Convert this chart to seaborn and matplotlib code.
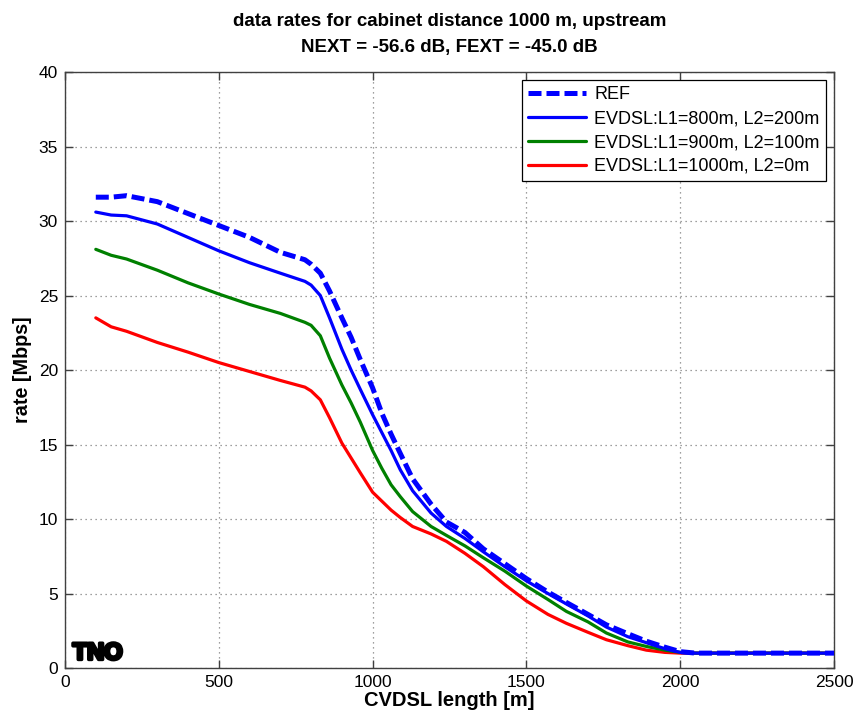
import numpy as np
import pandas as pd
import matplotlib
matplotlib.use("Agg")
import matplotlib.pyplot as plt
import matplotlib.patheffects as pe
import seaborn as sns

length_m = [100, 150, 200, 300, 400, 500, 600, 700, 780, 800, 830, 860, 900, 930, 960,
            1000, 1030, 1060, 1090, 1130, 1190, 1240, 1300, 1360, 1430, 1500, 1570, 1630,
            1700, 1760, 1830, 1890, 1950, 2000, 2050, 2100, 2200, 2300, 2400, 2500]

ref_rate = [31.6, 31.6, 31.7, 31.3, 30.5, 29.7, 28.9, 27.9, 27.4, 27.1, 26.5, 25.3, 23.5, 22.2, 20.7,
            18.8, 17.1, 15.7, 14.4, 12.7, 11.0, 9.8, 9.1, 8.0, 7.0, 6.0, 5.1, 4.4,
            3.6, 2.9, 2.3, 1.8, 1.4, 1.1, 1.0, 1.0, 1.0, 1.0, 1.0, 1.0]

evdsl_800_200 = [30.6, 30.4, 30.35, 29.8, 28.9, 28.0, 27.2, 26.5, 25.95, 25.7, 25.0, 23.5, 21.4, 20.0, 18.7,
                 17.0, 15.8, 14.6, 13.3, 11.9, 10.4, 9.5, 8.7, 7.8, 6.8, 5.85, 5.0, 4.3,
                 3.5, 2.75, 2.1, 1.7, 1.3, 1.05, 1.0, 1.0, 1.0, 1.0, 1.0, 1.0]

evdsl_900_100 = [28.1, 27.7, 27.45, 26.7, 25.85, 25.1, 24.4, 23.8, 23.2, 23.0, 22.3, 20.8, 19.0, 17.8, 16.5,
                 14.6, 13.4, 12.3, 11.5, 10.5, 9.5, 8.9, 8.2, 7.4, 6.5, 5.5, 4.6, 3.8,
                 3.1, 2.35, 1.75, 1.45, 1.2, 1.05, 1.0, 1.0, 1.0, 1.0, 1.0, 1.0]

evdsl_1000_0 = [23.5, 22.9, 22.6, 21.85, 21.2, 20.5, 19.9, 19.3, 18.85, 18.6, 18.0, 16.8, 15.1, 14.1, 13.1,
                11.8, 11.2, 10.6, 10.1, 9.5, 9.0, 8.5, 7.7, 6.8, 5.6, 4.5, 3.6, 3.0,
                2.4, 1.9, 1.5, 1.2, 1.05, 1.0, 1.0, 1.0, 1.0, 1.0, 1.0, 1.0]

series_names = ["REF", "EVDSL:L1=800m, L2=200m", "EVDSL:L1=900m, L2=100m", "EVDSL:L1=1000m, L2=0m"]
x_ticks = [0, 500, 1000, 1500, 2000, 2500]
y_ticks = [0, 5, 10, 15, 20, 25, 30, 35, 40]

sns.set_theme(style="white")
plt.rcParams["font.family"] = ["Liberation Sans", "DejaVu Sans"]
plt.rcParams["text.color"] = "black"
plt.rcParams["axes.labelcolor"] = "black"
plt.rcParams["xtick.color"] = "black"
plt.rcParams["ytick.color"] = "black"

fig = plt.figure(figsize=(8.58, 7.18), dpi=100)
ax = fig.add_axes([0.0758, 0.0696, 0.8962, 0.8301])

frames = []
for name, vals in zip(series_names, [ref_rate, evdsl_800_200, evdsl_900_100, evdsl_1000_0]):
    frames.append(pd.DataFrame({"length": length_m, "rate": vals, "series": name}))
df = pd.concat(frames, ignore_index=True)

palette = {series_names[0]: (0, 0, 1), series_names[1]: (0, 0, 1),
           series_names[2]: (0, 0.5, 0), series_names[3]: (1, 0, 0)}

for name in [series_names[3], series_names[2], series_names[1], series_names[0]]:
    sub = df[df["series"] == name]
    sns.lineplot(data=sub, x="length", y="rate", ax=ax, color=palette[name],
                 linewidth=3.6 if name == "REF" else 2.3, label=name, zorder=3)
    if name == "REF":
        ax.lines[-1].set_dashes((2.6, 1.0))

ax.set_xlim(0, 2500)
ax.set_ylim(0, 40)
ax.set_xticks(x_ticks)
ax.set_yticks(y_ticks)
ax.grid(True, color="#808080", linestyle=(0, (1, 3)), linewidth=0.9)
ax.set_axisbelow(True)
for s in ax.spines.values():
    s.set_color("#404040")
    s.set_linewidth(1.0)
ax.tick_params(direction="in", length=6, width=1, color="#404040", labelcolor="black",
               top=True, right=True, bottom=True, left=True, labelsize=12.5, pad=5)

ax.set_xlabel("CVDSL length [m]", fontsize=14.5, fontweight="bold", labelpad=1)
ax.set_ylabel("rate [Mbps]", fontsize=14.2, fontweight="bold", labelpad=5)
ax.set_title("data rates for cabinet distance 1000 m, upstream\nNEXT = -56.6 dB, FEXT = -45.0 dB",
             fontsize=13.5, fontweight="bold", pad=14.5, linespacing=1.7)

handles, labels = ax.get_legend_handles_labels()
order = [labels.index(n) for n in series_names]
leg = ax.legend([handles[i] for i in order], [labels[i] for i in order],
                loc="upper right", fontsize=13, frameon=True, fancybox=False,
                edgecolor="black", framealpha=1, handlelength=3.2, borderpad=0.35,
                labelspacing=0.38, handletextpad=0.45, borderaxespad=0,
                bbox_to_anchor=(0.9896, 0.9866))
leg.get_frame().set_linewidth(0.9)

ax.text(0.01, 0.006, "TNO", transform=ax.transAxes, fontsize=17, fontweight="black",
        color="black", ha="left", va="bottom",
        path_effects=[pe.withStroke(linewidth=2.5, foreground="black")])

fig.savefig("out.png", dpi=100)
